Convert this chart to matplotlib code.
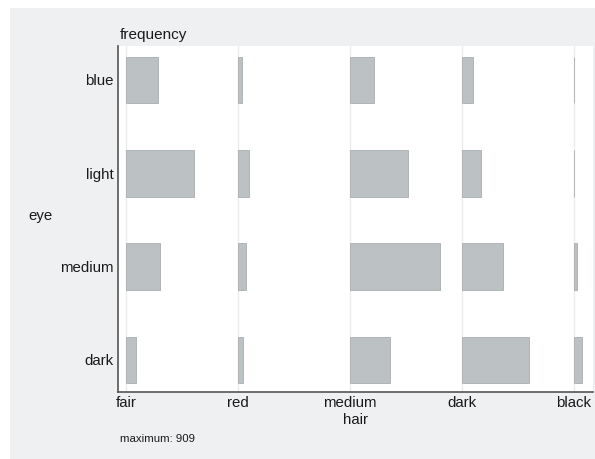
import matplotlib
matplotlib.use("Agg")
import matplotlib.pyplot as plt
from matplotlib.patches import Rectangle

hair = ["fair", "red", "medium", "dark", "black"]
eye = ["blue", "light", "medium", "dark"]
counts = [
    [326, 38, 241, 110, 3],
    [688, 116, 584, 188, 4],
    [343, 84, 909, 412, 26],
    [98, 48, 403, 681, 85],
]

W, H = 595, 459
fig = plt.figure(figsize=(W / 100, H / 100), dpi=100, facecolor="white")
plt.rcParams["font.family"] = ["Liberation Sans", "DejaVu Sans"]

# grey background panel
fig.patches.append(Rectangle((10 / W, 0), 1 - 10 / W, 1 - 8 / H, transform=fig.transFigure,
                             facecolor="#eff0f2", edgecolor="none", zorder=-10))

ax = fig.add_axes([118 / W, (H - 392) / H, (593 - 118) / W, (392 - 46) / H])
ax.set_facecolor("white")

maxv = max(max(r) for r in counts)
scale = (90 / 112) / maxv
xpos = list(range(len(hair)))
for j, x in enumerate(xpos):
    ax.axvline(x, color="#ececee", lw=1.0, zorder=0)
for i, row in enumerate(counts):
    for j, v in enumerate(row):
        ax.barh(i, v * scale, left=j, height=0.5, color="#bcc1c4",
                edgecolor="#a8adb0", linewidth=0.6, align="center", zorder=2)

ax.set_xlim((118 - 126) / 112, (593 - 126) / 112)
ax.set_ylim((392 - 80) / 93.3, (46 - 80) / 93.3)
ax.set_xticks(xpos)
ax.set_xticklabels(hair, fontsize=10.8, color="#1a1a1a")
ax.set_yticks(range(len(eye)))
ax.set_yticklabels(eye, fontsize=10.8, color="#1a1a1a")
ax.tick_params(length=0, pad=3)
for s in ["top", "right"]:
    ax.spines[s].set_visible(False)
for s in ["left", "bottom"]:
    ax.spines[s].set_color("#555555")
    ax.spines[s].set_linewidth(1.2)

fig.text(120 / W, 1 - 35 / H, "frequency", fontsize=11, color="#1a1a1a", va="center", ha="left")
fig.text(28 / W, 1 - 216 / H, "eye", fontsize=10.8, color="#1a1a1a", va="center", ha="left")
fig.text(355 / W, 1 - 420 / H, "hair", fontsize=10.8, color="#1a1a1a", va="center", ha="center")
fig.text(120 / W, 1 - 439 / H, "maximum: %d" % maxv, fontsize=8.2, color="#1a1a1a", va="center", ha="left")

fig.savefig("out.png", dpi=100, facecolor="white")
